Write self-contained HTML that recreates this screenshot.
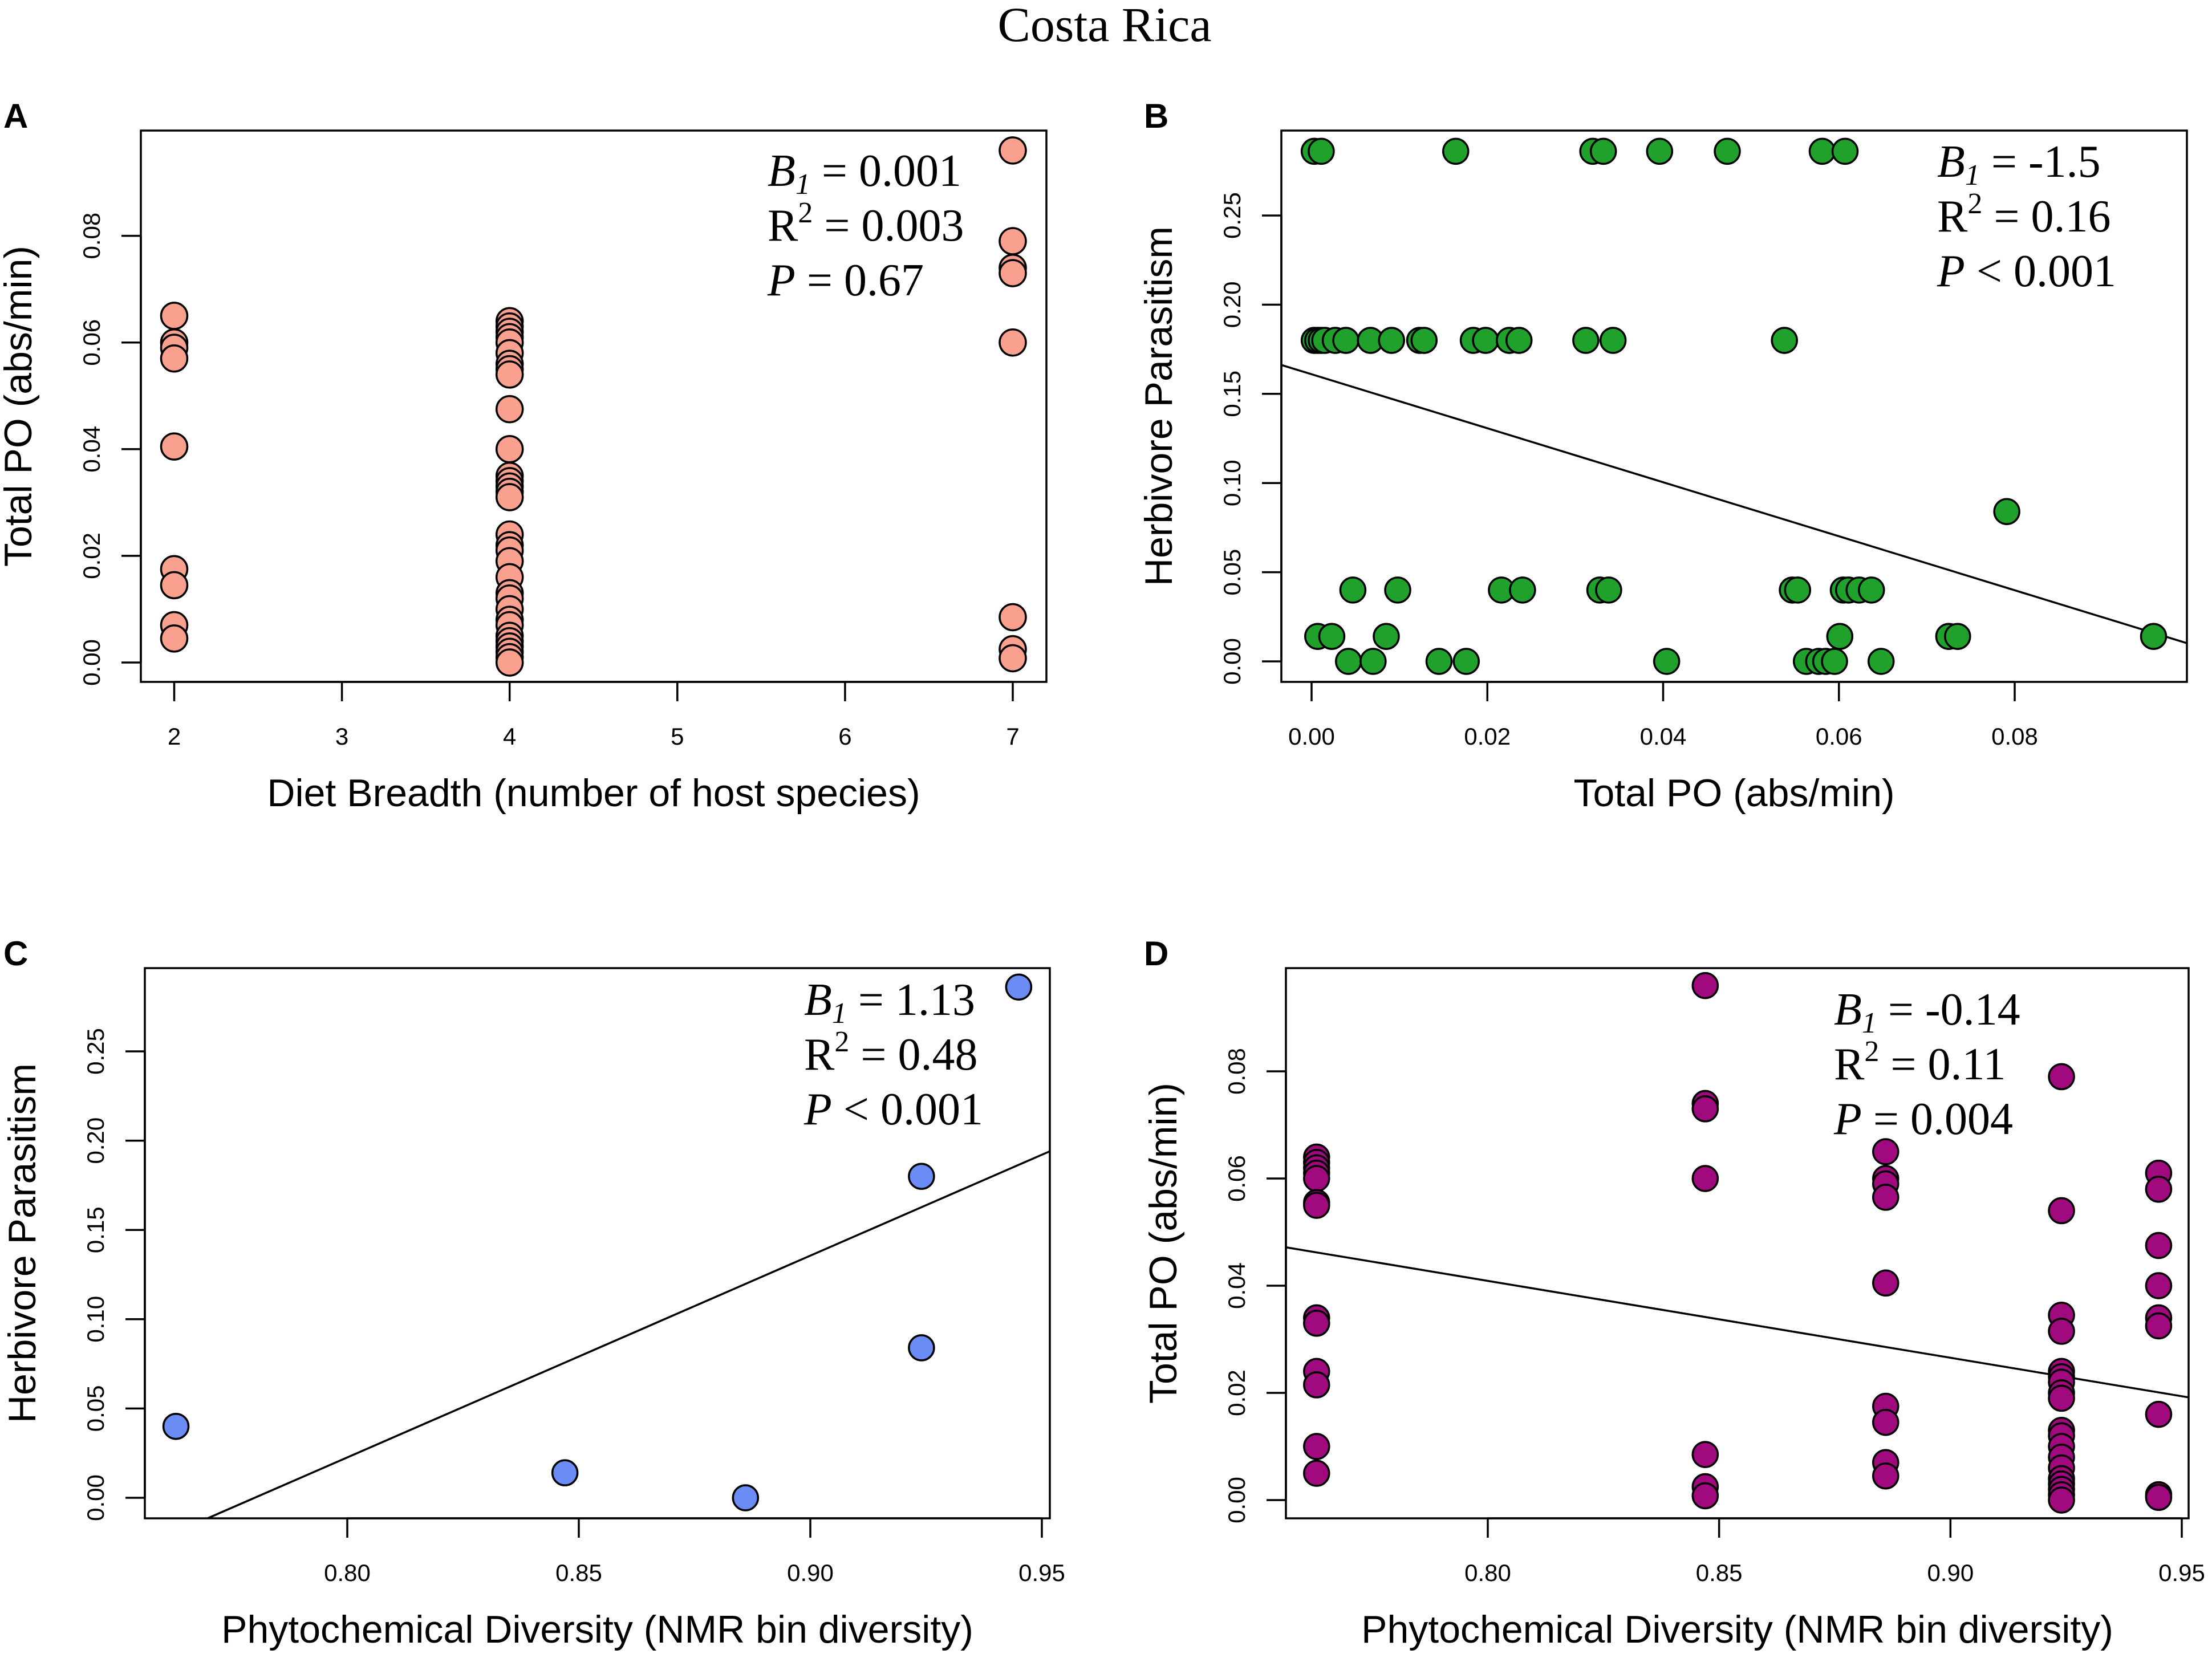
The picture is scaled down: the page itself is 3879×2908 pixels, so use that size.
<!DOCTYPE html>
<html><head><meta charset="utf-8"><style>
html,body{margin:0;padding:0;background:#fff;overflow:hidden;}
svg{display:block;}
</style></head><body>
<svg id="fig" width="3879" height="2908" viewBox="0 0 3879 2908" xmlns="http://www.w3.org/2000/svg">
<text x="1937" y="72" font-family="Liberation Serif, serif" font-size="86" text-anchor="middle">Costa Rica</text>
</svg>
<script>
// Panel A data: diet breadth vs total PO
const aX = [2,2,2,2,2,2,2,2,2, 4,4,4,4,4,4,4,4,4,4,4,4,4,4,4,4,4,4,4,4,4,4,4,4,4,4,4,4,4,4,4,4, 7,7,7,7,7,7,7,7];
const aY = [0.065,0.060,0.059,0.057,0.0405,0.0175,0.0145,0.007,0.0045,
  0.064,0.063,0.062,0.061,0.060,0.058,0.056,0.055,0.054,0.0475,0.040,0.035,0.034,0.033,0.032,0.031,0.024,0.022,0.021,0.019,0.016,0.013,0.012,0.010,0.008,0.007,0.005,0.004,0.003,0.002,0.001,0.000,
  0.096,0.079,0.074,0.073,0.060,0.0085,0.0025,0.0008];
// Panel B data: total PO vs herbivore parasitism
const bX = [0.0003,0.0011,0.0164,0.032,0.0332,0.0396,0.0473,0.0581,0.0607,
  0.0003,0.0007,0.0011,0.0015,0.0027,0.0039,0.0067,0.0091,0.0123,0.0128,0.0184,0.0198,0.0225,0.0236,0.0312,0.0343,0.0538,
  0.0791,
  0.0047,0.0098,0.0216,0.024,0.0328,0.0338,0.0547,0.0553,0.0605,0.0611,0.0623,0.0637,
  0.0007,0.0023,0.0085,0.0601,0.0725,0.0735,0.0958,
  0.0042,0.007,0.0145,0.0176,0.0404,0.0563,0.0577,0.0585,0.0595,0.0648];
const bY = [0.286,0.286,0.286,0.286,0.286,0.286,0.286,0.286,0.286,
  0.18,0.18,0.18,0.18,0.18,0.18,0.18,0.18,0.18,0.18,0.18,0.18,0.18,0.18,0.18,0.18,0.18,
  0.084,
  0.04,0.04,0.04,0.04,0.04,0.04,0.04,0.04,0.04,0.04,0.04,0.04,
  0.014,0.014,0.014,0.014,0.014,0.014,0.014,
  0,0,0,0,0,0,0,0,0,0];
// Panel C data: phytochemical diversity vs parasitism
const cX = [0.763,0.847,0.886,0.924,0.924,0.945];
const cY = [0.04,0.014,0,0.18,0.084,0.286];
// Panel D data: phytochemical diversity vs total PO
const dX = [0.763,0.763,0.763,0.763,0.763,0.763,0.763,0.763,0.763,0.763,0.763,0.763,0.763,
  0.847,0.847,0.847,0.847,0.847,0.847,0.847,
  0.886,0.886,0.886,0.886,0.886,0.886,0.886,0.886,0.886,
  0.924,0.924,0.924,0.924,0.924,0.924,0.924,0.924,0.924,0.924,0.924,0.924,0.924,0.924,0.924,0.924,0.924,0.924,0.924,
  0.945,0.945,0.945,0.945,0.945,0.945,0.945,0.945,0.945];
const dY = [0.064,0.063,0.062,0.061,0.060,0.0555,0.055,0.034,0.033,0.024,0.0215,0.010,0.005,
  0.096,0.074,0.073,0.060,0.0085,0.0025,0.0008,
  0.065,0.060,0.059,0.0565,0.0405,0.0175,0.0145,0.007,0.0045,
  0.079,0.054,0.0345,0.0315,0.024,0.023,0.022,0.020,0.019,0.013,0.012,0.010,0.008,0.006,0.004,0.003,0.002,0.001,0.0,
  0.061,0.058,0.0475,0.040,0.034,0.0325,0.016,0.001,0.0005];
// Regression fits: intercept, slope
const fitB = [0.161,-1.514];
const fitC = [-0.8814,1.13];
const fitD = [0.1557,-0.1435];
// Tick labels
const ticksAX = [2,3,4,5,6,7];
const ticksAY = ["0.00","0.02","0.04","0.06","0.08"];
const ticksBX = ["0.00","0.02","0.04","0.06","0.08"];
const ticksBY = ["0.00","0.05","0.10","0.15","0.20","0.25"];
const ticksCX = ["0.80","0.85","0.90","0.95"];
const ticksCY = ["0.00","0.05","0.10","0.15","0.20","0.25"];
const ticksDX = ["0.80","0.85","0.90","0.95"];
const ticksDY = ["0.00","0.02","0.04","0.06","0.08"];

const NS = "http://www.w3.org/2000/svg";
const svg = document.getElementById('fig');
function mk(tag, attrs, parent){
  const e = document.createElementNS(NS, tag);
  for (const k in attrs) e.setAttribute(k, attrs[k]);
  (parent||svg).appendChild(e);
  return e;
}
function lin(d0,d1,p0,p1){ return v => p0 + (v-d0)/(d1-d0)*(p1-p0); }

function panel(cfg){
  const g = mk('g', {});
  
  
  const sx = lin(cfg.xd[0], cfg.xd[1], cfg.xp[0], cfg.xp[1]);
  const sy = lin(cfg.yd[0], cfg.yd[1], cfg.yp[0], cfg.yp[1]);
  const B = cfg.box;
  const cp = mk('clipPath', {id:'clip'+cfg.id}, g);
  mk('rect', {x:B[0], y:B[1], width:B[2]-B[0], height:B[3]-B[1]}, cp);
  if (cfg.fit){
    const x0 = cfg.xd[0] - (cfg.xd[1]-cfg.xd[0]), x1 = cfg.xd[1] + (cfg.xd[1]-cfg.xd[0]);
    const ln = mk('line', {x1:sx(x0), y1:sy(cfg.fit[0]+cfg.fit[1]*x0), x2:sx(x1), y2:sy(cfg.fit[0]+cfg.fit[1]*x1), stroke:'#000', 'stroke-width':3.5, 'clip-path':'url(#clip'+cfg.id+')'}, g);
    
    
  }
  for (let i=0;i<cfg.xs.length;i++){
    const c = mk('ellipse', {cx:sx(cfg.xs[i]), cy:sy(cfg.ys[i]), rx:cfg.r, ry:cfg.r, fill:cfg.color, stroke:'#000', 'stroke-width':3.5}, g);
    
    
  }
  const bx = mk('rect', {x:B[0], y:B[1], width:B[2]-B[0], height:B[3]-B[1], fill:'none', stroke:'#000', 'stroke-width':3.5}, g);
  
  
  const xt = cfg.xticks;
  const xax = mk('line', {x1:sx(+xt[0]), y1:B[3], x2:sx(+xt[xt.length-1]), y2:B[3], stroke:'#000','stroke-width':3.5}, g);
  
  
  xt.forEach(t => {
    const px = sx(+t);
    mk('line', {x1:px, y1:B[3], x2:px, y2:B[3]+34, stroke:'#000','stroke-width':3.5}, g);
    const tx = mk('text', {x:px, y:B[3]+110, 'font-family':'Liberation Sans, sans-serif', 'font-size':42, 'text-anchor':'middle'}, g);
    tx.textContent = t;
    
    
  });
  const yt = cfg.yticks;
  const yax = mk('line', {x1:B[0], y1:sy(+yt[0]), x2:B[0], y2:sy(+yt[yt.length-1]), stroke:'#000','stroke-width':3.5}, g);
  
  
  yt.forEach(t => {
    const py = sy(+t);
    mk('line', {x1:B[0]-34, y1:py, x2:B[0], y2:py, stroke:'#000','stroke-width':3.5}, g);
    const lx = B[0]-72;
    const tx = mk('text', {x:lx, y:py, 'font-family':'Liberation Sans, sans-serif', 'font-size':42, 'text-anchor':'middle', transform:'rotate(-90 '+lx+' '+py+')'}, g);
    tx.textContent = t;
    
    
  });
  const xcx = (B[0]+B[2])/2;
  const xtt = mk('text', {x:xcx, y:B[3]+218, 'font-family':'Liberation Sans, sans-serif', 'font-size':68, 'text-anchor':'middle'}, g);
  xtt.textContent = cfg.xtitle;
  
  
  const ycy = (B[1]+B[3])/2, ytx = B[0]-192;
  const ytt = mk('text', {x:ytx, y:ycy, 'font-family':'Liberation Sans, sans-serif', 'font-size':68, 'text-anchor':'middle', transform:'rotate(-90 '+ytx+' '+ycy+')'}, g);
  ytt.textContent = cfg.ytitle;
  
  
  const pl = mk('text', {x:cfg.letterX, y:B[1]-5, 'font-family':'Liberation Sans, sans-serif', 'font-size':60, 'font-weight':'bold'}, g);
  pl.textContent = cfg.id;
  
  
  const st = cfg.stats;
  const f = 'Liberation Serif, serif';
  const t1 = mk('text', {x:st.x, y:st.y, 'font-family':f, 'font-size':80}, g);
  t1.innerHTML = '<tspan font-style="italic">B</tspan><tspan font-style="italic" font-size="52" dy="14">1</tspan><tspan dy="-14"> = '+st.b+'</tspan>';
  
  
  const t2 = mk('text', {x:st.x, y:st.y+96, 'font-family':f, 'font-size':80}, g);
  t2.innerHTML = 'R<tspan font-size="52" dy="-32">2</tspan><tspan dy="32"> = '+st.r+'</tspan>';
  
  
  const t3 = mk('text', {x:st.x, y:st.y+192, 'font-family':f, 'font-size':80}, g);
  t3.innerHTML = '<tspan font-style="italic">P</tspan> '+st.p;
  
  
}

panel({id:'A', box:[247,229,1835,1196], xd:[2,7], xp:[305.5,1776], yd:[0,0.08], yp:[1162,413.6],
  xs:aX, ys:aY, r:23, color:'#F9A08E', xticks:ticksAX.map(String), yticks:ticksAY,
  xtitle:'Diet Breadth (number of host species)', ytitle:'Total PO (abs/min)', letterX:6,
  stats:{x:1346, y:326, b:'0.001', r:'0.003', p:'= 0.67'}});
panel({id:'B', box:[2247,229,3835,1196], xd:[0,0.08], xp:[2300,3533], yd:[0,0.25], yp:[1160,378],
  xs:bX, ys:bY, r:22, color:'#1FA12C', fit:fitB, xticks:ticksBX, yticks:ticksBY,
  xtitle:'Total PO (abs/min)', ytitle:'Herbivore Parasitism', letterX:2006,
  stats:{x:3397, y:310, b:'-1.5', r:'0.16', p:'< 0.001'}});
panel({id:'C', box:[254,1698,1841,2663], xd:[0.80,0.95], xp:[609,1827], yd:[0,0.25], yp:[2627,1844],
  xs:cX, ys:cY, r:22, color:'#6A8CF4', fit:fitC, xticks:ticksCX, yticks:ticksCY,
  xtitle:'Phytochemical Diversity (NMR bin diversity)', ytitle:'Herbivore Parasitism', letterX:6,
  stats:{x:1410, y:1780, b:'1.13', r:'0.48', p:'< 0.001'}});
panel({id:'D', box:[2255,1698,3838,2663], xd:[0.80,0.95], xp:[2609,3826], yd:[0,0.08], yp:[2631,1879],
  xs:dX, ys:dY, r:22, color:'#A1097E', fit:fitD, xticks:ticksDX, yticks:ticksDY,
  xtitle:'Phytochemical Diversity (NMR bin diversity)', ytitle:'Total PO (abs/min)', letterX:2006,
  stats:{x:3216, y:1797, b:'-0.14', r:'0.11', p:'= 0.004'}});
</script>
</body></html>
